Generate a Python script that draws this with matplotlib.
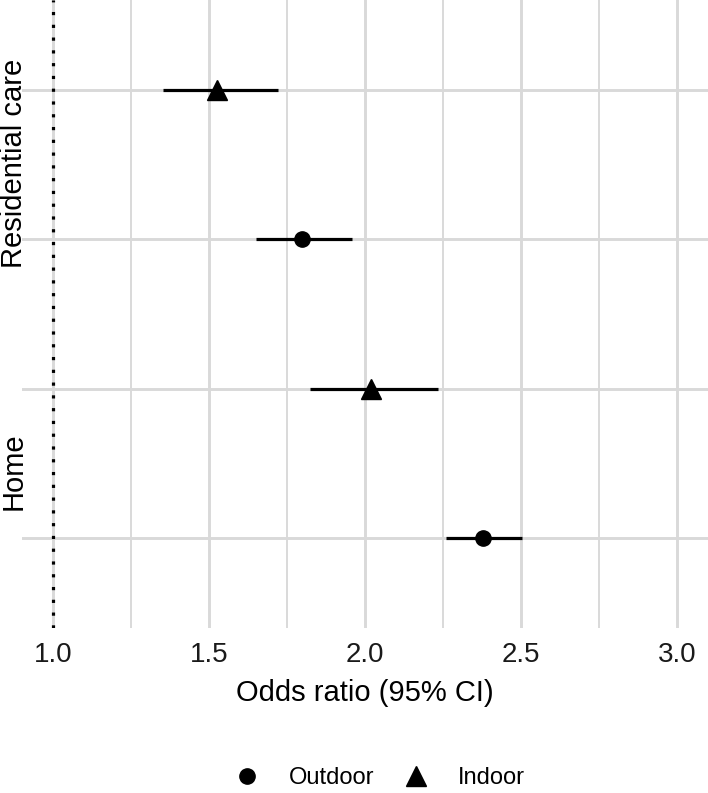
import matplotlib
matplotlib.use("Agg")
import matplotlib.pyplot as plt
from matplotlib.lines import Line2D

plt.rcParams['font.family'] = ['Liberation Sans', 'DejaVu Sans']

# ---- data ----
settings = ['Residential care', 'Residential care', 'Home', 'Home']
exposure = ['Indoor', 'Outdoor', 'Indoor', 'Outdoor']
odds_ratio = [1.525, 1.799, 2.018, 2.378]
ci_low = [1.351, 1.651, 1.824, 2.261]
ci_high = [1.722, 1.957, 2.234, 2.504]
group_labels = ['Residential care', 'Home']
group_pos = [1.49, 3.55]
x_ticks = [1.0, 1.5, 2.0, 2.5, 3.0]
x_minor = [1.25, 1.75, 2.25, 2.75]
legend_labels = ['Outdoor', 'Indoor']

markers = {'Outdoor': 'o', 'Indoor': '^'}
msizes = {'Outdoor': 11, 'Indoor': 14}

W, H = 708, 793
fig = plt.figure(figsize=(W / 100, H / 100), dpi=100)
ax = fig.add_axes([22 / W, 1 - 628 / H, (W - 22) / W, 628 / H])

rows = list(range(1, len(odds_ratio) + 1))
grid_c = '#D9D9D9'

ax.set_xlim(0.9, 3.1)
ax.set_ylim(4.6, 0.4)
ax.set_xticks(x_ticks)
ax.set_xticklabels([f'{t:.1f}' for t in x_ticks])
ax.set_xticks(x_minor, minor=True)
ax.set_yticks(rows)
ax.set_yticklabels([])
ax.tick_params(axis='both', which='both', length=0)
ax.tick_params(axis='x', labelsize=20, pad=10, colors='#1a1a1a')
ax.grid(True, which='major', axis='both', color=grid_c, lw=2.1)
ax.grid(True, which='minor', axis='x', color=grid_c, lw=1.4)
ax.set_axisbelow(True)
for s in ax.spines.values():
    s.set_visible(False)

ax.axvline(1.0, color='black', lw=2.3, linestyle=(0, (1, 3)), zorder=2)

for r, o, l, h, e in zip(rows, odds_ratio, ci_low, ci_high, exposure):
    ax.plot([l, h], [r, r], color='black', lw=2.3, solid_capstyle='butt', zorder=3)
    ax.plot([o], [r], marker=markers[e], ms=msizes[e], color='black',
            linestyle='none', zorder=4)

for lab, p in zip(group_labels, group_pos):
    ax.text(0.0, p, lab, transform=ax.get_yaxis_transform(), rotation=90,
            rotation_mode='anchor', ha='center', va='baseline', fontsize=21,
            color='black')

ax.set_xlabel('Odds ratio (95% CI)', fontsize=21, labelpad=8)

handles = [Line2D([], [], marker=markers[k], ms=msizes[k], color='black',
                  linestyle='none') for k in legend_labels]
fig.legend(handles, legend_labels, loc='center', ncol=2, frameon=False,
           bbox_to_anchor=(380 / W, (H - 778) / H), fontsize=17,
           handlelength=1.0, handletextpad=1.25, columnspacing=1.3,
           borderpad=0, borderaxespad=0)

fig.savefig('out.png', dpi=100)
